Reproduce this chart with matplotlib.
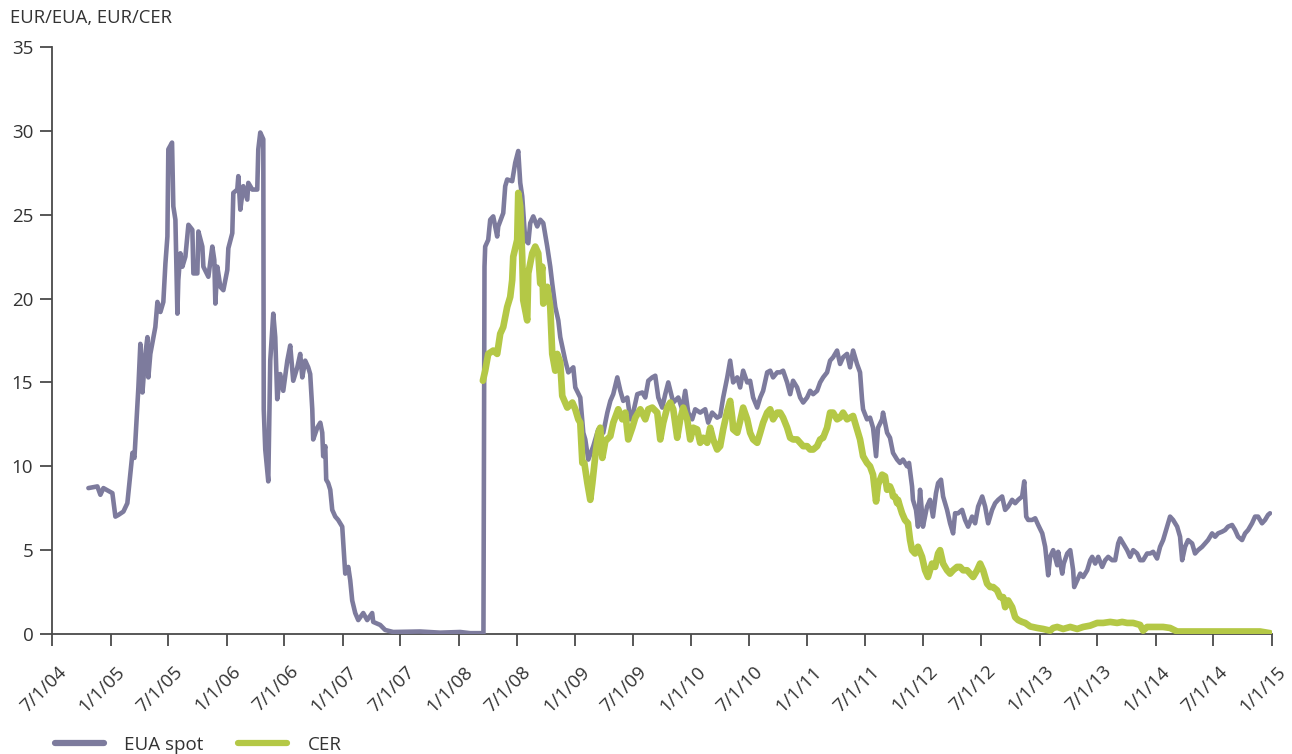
import matplotlib
matplotlib.use("Agg")
import matplotlib.pyplot as plt
import matplotlib.dates as mdates
import matplotlib.transforms as mtransforms
from matplotlib.ticker import FuncFormatter
from datetime import datetime

plt.rcParams['font.family'] = ['Open Sans', 'DejaVu Sans']

# ---- data (decimal years, EUR) ----
eua_t = [2004.810, 2004.887, 2004.913, 2004.939, 2005.016, 2005.042, 2005.068, 2005.111, 2005.145, 2005.171,
         2005.189, 2005.206, 2005.232, 2005.240, 2005.257, 2005.275, 2005.300, 2005.318, 2005.326, 2005.343,
         2005.386, 2005.404, 2005.430, 2005.455, 2005.473, 2005.490, 2005.498, 2005.530, 2005.541, 2005.559,
         2005.576, 2005.584, 2005.602, 2005.619, 2005.645, 2005.671, 2005.705, 2005.714, 2005.748, 2005.757,
         2005.791, 2005.800, 2005.843, 2005.877, 2005.894, 2005.903, 2005.920, 2005.946, 2005.972, 2006.006,
         2006.015, 2006.049, 2006.058, 2006.092, 2006.101, 2006.118, 2006.144, 2006.178, 2006.187, 2006.221,
         2006.264, 2006.273, 2006.290, 2006.316, 2006.320, 2006.333, 2006.359, 2006.376, 2006.402, 2006.419,
         2006.436, 2006.462, 2006.488, 2006.523, 2006.548, 2006.574, 2006.609, 2006.634, 2006.652, 2006.677,
         2006.703, 2006.720, 2006.738, 2006.746, 2006.781, 2006.807, 2006.824, 2006.832, 2006.850, 2006.858,
         2006.875, 2006.893, 2006.910, 2006.936, 2006.961, 2006.996, 2007.022, 2007.048, 2007.065, 2007.082,
         2007.108, 2007.134, 2007.177, 2007.211, 2007.254, 2007.263, 2007.323, 2007.366, 2007.435, 2007.667,
         2007.839, 2008.012, 2008.098, 2008.212, 2008.221, 2008.227, 2008.253, 2008.270, 2008.296, 2008.330,
         2008.339, 2008.382, 2008.399, 2008.416, 2008.459, 2008.485, 2008.511, 2008.528, 2008.545, 2008.571,
         2008.597, 2008.614, 2008.640, 2008.674, 2008.700, 2008.726, 2008.760, 2008.786, 2008.803, 2008.829,
         2008.855, 2008.872, 2008.915, 2008.941, 2008.984, 2009.001, 2009.044, 2009.070, 2009.087, 2009.113,
         2009.156, 2009.199, 2009.242, 2009.277, 2009.303, 2009.328, 2009.363, 2009.389, 2009.414, 2009.449,
         2009.475, 2009.500, 2009.535, 2009.578, 2009.604, 2009.630, 2009.664, 2009.690, 2009.716, 2009.750,
         2009.776, 2009.802, 2009.845, 2009.888, 2009.922, 2009.948, 2009.974, 2010.008, 2010.034, 2010.077,
         2010.120, 2010.146, 2010.180, 2010.223, 2010.249, 2010.275, 2010.310, 2010.335, 2010.361, 2010.396,
         2010.421, 2010.447, 2010.482, 2010.507, 2010.533, 2010.568, 2010.594, 2010.619, 2010.654, 2010.680,
         2010.705, 2010.740, 2010.766, 2010.791, 2010.826, 2010.852, 2010.877, 2010.912, 2010.938, 2010.964,
         2010.998, 2011.024, 2011.050, 2011.084, 2011.110, 2011.136, 2011.170, 2011.196, 2011.222, 2011.256,
         2011.282, 2011.308, 2011.342, 2011.368, 2011.394, 2011.428, 2011.454, 2011.471, 2011.480, 2011.514,
         2011.540, 2011.566, 2011.592, 2011.609, 2011.644, 2011.652, 2011.687, 2011.712, 2011.738, 2011.773,
         2011.798, 2011.824, 2011.859, 2011.876, 2011.902, 2011.910, 2011.936, 2011.953, 2011.971, 2011.988,
         2011.996, 2012.031, 2012.057, 2012.082, 2012.108, 2012.126, 2012.151, 2012.169, 2012.203, 2012.229,
         2012.255, 2012.272, 2012.298, 2012.332, 2012.358, 2012.384, 2012.418, 2012.444, 2012.470, 2012.505,
         2012.530, 2012.556, 2012.590, 2012.616, 2012.642, 2012.676, 2012.702, 2012.728, 2012.762, 2012.788,
         2012.814, 2012.848, 2012.866, 2012.883, 2012.900, 2012.934, 2012.960, 2012.986, 2013.021, 2013.046,
         2013.072, 2013.089, 2013.115, 2013.150, 2013.158, 2013.193, 2013.206, 2013.236, 2013.262, 2013.287,
         2013.296, 2013.322, 2013.348, 2013.373, 2013.408, 2013.434, 2013.451, 2013.477, 2013.503, 2013.537,
         2013.563, 2013.589, 2013.623, 2013.649, 2013.675, 2013.692, 2013.718, 2013.752, 2013.778, 2013.804,
         2013.838, 2013.864, 2013.890, 2013.924, 2013.950, 2013.976, 2014.010, 2014.036, 2014.062, 2014.096,
         2014.122, 2014.148, 2014.183, 2014.208, 2014.226, 2014.251, 2014.277, 2014.312, 2014.337, 2014.363,
         2014.398, 2014.424, 2014.449, 2014.484, 2014.510, 2014.535, 2014.570, 2014.596, 2014.621, 2014.656,
         2014.682, 2014.708, 2014.742, 2014.768, 2014.794, 2014.828, 2014.854, 2014.880, 2014.914, 2014.940,
         2014.966, 2014.983]
eua_v = [8.7, 8.8, 8.3, 8.7, 8.4, 7.0, 7.1, 7.3, 7.8, 9.6,
         10.8, 10.5, 13.8, 14.7, 17.3, 14.4, 16.7, 17.7, 15.3, 16.7,
         18.3, 19.8, 19.2, 19.8, 22.1, 23.7, 28.9, 29.3, 25.5, 24.7,
         19.1, 21.1, 22.7, 21.9, 22.5, 24.4, 24.1, 21.5, 21.5, 24.0,
         23.1, 21.9, 21.3, 23.1, 22.3, 19.7, 21.9, 20.7, 20.5, 21.7,
         23.0, 23.9, 26.3, 26.5, 27.3, 25.3, 26.7, 25.9, 26.9, 26.5,
         26.5, 28.9, 29.9, 29.5, 13.4, 11.0, 9.1, 16.3, 19.1, 17.7,
         14.0, 15.5, 14.5, 16.3, 17.2, 15.1, 15.9, 16.7, 15.3, 16.3,
         15.9, 15.5, 13.4, 11.6, 12.3, 12.6, 12.0, 10.6, 11.2, 9.2,
         9.0, 8.6, 7.4, 7.0, 6.8, 6.4, 3.6, 4.0, 3.2, 2.0,
         1.25, 0.83, 1.25, 0.83, 1.25, 0.72, 0.54, 0.24, 0.12, 0.15,
         0.08, 0.12, 0.05, 0.05, 21.9, 23.1, 23.5, 24.7, 24.9, 23.7,
         24.3, 25.1, 26.7, 27.1, 27.0, 28.1, 28.8, 26.9, 26.1, 23.5,
         23.3, 24.5, 24.9, 24.3, 24.7, 24.5, 23.1, 21.9, 20.9, 19.5,
         18.7, 17.7, 16.3, 15.6, 15.9, 14.7, 14.1, 12.0, 11.6, 10.4,
         11.2, 12.2, 12.0, 13.2, 13.9, 14.3, 15.3, 14.5, 13.9, 14.1,
         12.8, 13.2, 14.3, 14.4, 14.1, 15.1, 15.3, 15.4, 14.1, 13.5,
         14.3, 15.0, 13.8, 14.1, 13.4, 14.5, 13.2, 12.8, 13.4, 13.2,
         13.4, 12.6, 13.2, 12.9, 13.0, 14.1, 15.3, 16.3, 15.0, 15.3,
         14.7, 15.7, 15.0, 15.1, 14.1, 13.5, 14.1, 14.5, 15.6, 15.7,
         15.3, 15.6, 15.6, 15.7, 15.0, 14.3, 15.1, 14.7, 14.1, 13.8,
         14.1, 14.5, 14.3, 14.5, 15.0, 15.3, 15.6, 16.3, 16.5, 16.9,
         16.1, 16.5, 16.7, 15.9, 16.9, 16.1, 15.6, 14.0, 13.4, 12.8,
         12.9, 12.3, 10.6, 12.3, 12.8, 13.2, 12.0, 11.7, 10.8, 10.4,
         10.2, 10.4, 10.0, 10.2, 8.8, 8.0, 7.4, 6.4, 8.6, 7.2,
         6.4, 7.6, 8.0, 7.0, 8.4, 9.0, 9.2, 8.2, 7.4, 6.6,
         6.0, 7.2, 7.2, 7.4, 6.8, 6.4, 7.0, 6.6, 7.6, 8.2,
         7.6, 6.6, 7.4, 7.8, 8.0, 8.2, 7.4, 7.6, 8.0, 7.8,
         8.0, 8.2, 9.1, 7.0, 6.8, 6.8, 6.9, 6.5, 6.0, 5.2,
         3.5, 4.6, 5.0, 4.1, 4.9, 3.6, 4.2, 4.8, 5.0, 3.8,
         2.8, 3.2, 3.6, 3.4, 3.8, 4.4, 4.6, 4.2, 4.6, 4.0,
         4.4, 4.6, 4.4, 4.4, 5.4, 5.7, 5.4, 5.0, 4.6, 5.0,
         4.8, 4.4, 4.4, 4.8, 4.8, 4.9, 4.5, 5.2, 5.6, 6.4,
         7.0, 6.8, 6.4, 5.8, 4.4, 5.2, 5.6, 5.4, 4.8, 5.0,
         5.2, 5.4, 5.6, 6.0, 5.8, 6.0, 6.1, 6.2, 6.4, 6.5,
         6.2, 5.8, 5.6, 6.0, 6.2, 6.6, 7.0, 7.0, 6.6, 6.8,
         7.1, 7.2]

cer_t = [2008.207, 2008.227, 2008.253, 2008.296, 2008.330, 2008.356, 2008.382, 2008.416, 2008.442, 2008.459,
         2008.468, 2008.502, 2008.511, 2008.528, 2008.545, 2008.554, 2008.588, 2008.597, 2008.631, 2008.657,
         2008.683, 2008.700, 2008.717, 2008.726, 2008.760, 2008.786, 2008.803, 2008.829, 2008.846, 2008.872,
         2008.889, 2008.932, 2008.976, 2009.001, 2009.027, 2009.044, 2009.062, 2009.079, 2009.105, 2009.130,
         2009.148, 2009.173, 2009.199, 2009.216, 2009.234, 2009.260, 2009.303, 2009.328, 2009.371, 2009.406,
         2009.432, 2009.457, 2009.492, 2009.518, 2009.561, 2009.604, 2009.630, 2009.664, 2009.707, 2009.733,
         2009.759, 2009.793, 2009.819, 2009.845, 2009.879, 2009.905, 2009.931, 2009.965, 2009.991, 2010.017,
         2010.051, 2010.077, 2010.103, 2010.137, 2010.163, 2010.189, 2010.223, 2010.249, 2010.275, 2010.310,
         2010.335, 2010.353, 2010.361, 2010.396, 2010.421, 2010.447, 2010.482, 2010.507, 2010.533, 2010.568,
         2010.594, 2010.619, 2010.654, 2010.680, 2010.705, 2010.740, 2010.766, 2010.791, 2010.826, 2010.852,
         2010.877, 2010.912, 2010.938, 2010.964, 2010.998, 2011.024, 2011.050, 2011.084, 2011.110, 2011.136,
         2011.170, 2011.196, 2011.222, 2011.256, 2011.282, 2011.308, 2011.342, 2011.368, 2011.394, 2011.428,
         2011.454, 2011.480, 2011.514, 2011.540, 2011.566, 2011.592, 2011.609, 2011.644, 2011.669, 2011.687,
         2011.712, 2011.730, 2011.738, 2011.755, 2011.773, 2011.781, 2011.798, 2011.816, 2011.841, 2011.867,
         2011.885, 2011.902, 2011.928, 2011.953, 2011.988, 2012.014, 2012.039, 2012.074, 2012.100, 2012.126,
         2012.143, 2012.169, 2012.203, 2012.229, 2012.255, 2012.289, 2012.315, 2012.341, 2012.375, 2012.401,
         2012.427, 2012.461, 2012.487, 2012.513, 2012.547, 2012.573, 2012.599, 2012.633, 2012.659, 2012.685,
         2012.702, 2012.728, 2012.762, 2012.788, 2012.814, 2012.848, 2012.874, 2012.917, 2012.978, 2013.029,
         2013.089, 2013.115, 2013.150, 2013.201, 2013.262, 2013.322, 2013.373, 2013.434, 2013.494, 2013.546,
         2013.606, 2013.666, 2013.709, 2013.752, 2013.804, 2013.864, 2013.890, 2013.924, 2013.993, 2014.062,
         2014.122, 2014.183, 2014.380, 2014.639, 2014.897, 2014.940, 2014.983]
cer_v = [15.1, 15.7, 16.7, 16.9, 16.7, 17.9, 18.3, 19.5, 20.1, 21.1,
         22.5, 23.5, 26.3, 25.5, 22.5, 19.9, 18.7, 21.5, 22.7, 23.1,
         22.7, 20.9, 21.9, 19.7, 20.7, 19.5, 16.7, 15.7, 16.7, 16.2,
         14.2, 13.5, 13.8, 13.4, 12.8, 12.6, 10.2, 10.2, 9.0, 8.0,
         9.0, 10.6, 12.0, 12.3, 10.5, 11.5, 11.8, 12.6, 13.4, 12.8,
         13.2, 11.6, 12.3, 12.9, 13.4, 12.8, 13.4, 13.5, 13.2, 11.6,
         12.6, 13.5, 13.8, 13.4, 11.7, 12.8, 13.5, 12.8, 11.6, 12.3,
         12.2, 11.4, 11.7, 11.4, 12.3, 11.6, 11.0, 11.2, 12.2, 13.3,
         13.9, 12.9, 12.2, 12.0, 12.7, 13.5, 12.8, 12.0, 11.6, 11.4,
         12.0, 12.6, 13.2, 13.4, 12.8, 13.2, 13.2, 12.9, 12.3, 11.7,
         11.6, 11.6, 11.4, 11.2, 11.2, 11.0, 11.0, 11.2, 11.6, 11.7,
         12.3, 13.2, 13.2, 12.8, 12.9, 13.2, 12.8, 12.9, 13.0, 12.2,
         11.6, 10.6, 10.2, 10.0, 9.5, 7.9, 8.9, 9.5, 9.4, 8.6,
         8.8, 8.5, 8.2, 8.2, 7.8, 8.0, 7.6, 7.2, 6.8, 6.6,
         5.6, 5.0, 4.8, 5.2, 4.6, 3.8, 3.4, 4.2, 4.0, 4.8,
         5.0, 4.2, 3.8, 3.6, 3.8, 4.0, 4.0, 3.8, 3.8, 3.6,
         3.4, 3.8, 4.2, 3.8, 3.0, 2.8, 2.8, 2.6, 2.2, 2.2,
         1.6, 2.0, 1.6, 1.0, 0.83, 0.72, 0.66, 0.45, 0.36, 0.3,
         0.2, 0.36, 0.42, 0.3, 0.42, 0.3, 0.42, 0.5, 0.66, 0.66,
         0.72, 0.66, 0.72, 0.66, 0.66, 0.54, 0.2, 0.42, 0.42, 0.42,
         0.36, 0.15, 0.15, 0.15, 0.15, 0.1, 0.05]

tick_dates = ["2004-07-01", "2005-01-01", "2005-07-01", "2006-01-01", "2006-07-01", "2007-01-01",
              "2007-07-01", "2008-01-01", "2008-07-01", "2009-01-01", "2009-07-01", "2010-01-01",
              "2010-07-01", "2011-01-01", "2011-07-01", "2012-01-01", "2012-07-01", "2013-01-01",
              "2013-07-01", "2014-01-01", "2014-07-01", "2015-01-01"]
y_ticks = [0, 5, 10, 15, 20, 25, 30, 35]
y_label = "EUR/EUA, EUR/CER"
series_names = ["EUA spot", "CER"]

EUA_COLOR = "#7d7b9d"
CER_COLOR = "#b4c846"
AXIS_COLOR = "#4a4a4a"
TEXT_COLOR = "#333333"


def yr2date(y):
    yi = int(y)
    a = datetime(yi, 1, 1)
    b = datetime(yi + 1, 1, 1)
    return a + (b - a) * (y - yi)


eua_d = [yr2date(t) for t in eua_t]
cer_d = [yr2date(t) for t in cer_t]
ticks = [datetime.strptime(s, "%Y-%m-%d") for s in tick_dates]

fig = plt.figure(figsize=(12.92, 7.54), dpi=100)
ax = fig.add_axes([52 / 1292, 1 - 634 / 754, 1220 / 1292, 587 / 754])

ax.plot(eua_d, eua_v, color=EUA_COLOR, lw=3.3, solid_joinstyle='round', solid_capstyle='round',
        label=series_names[0], zorder=2)
ax.plot(cer_d, cer_v, color=CER_COLOR, lw=4.8, solid_joinstyle='round', solid_capstyle='round',
        label=series_names[1], zorder=3)

ax.set_xlim(ticks[0], ticks[-1])
ax.set_ylim(0, 35)
ax.set_yticks(y_ticks)
ax.set_xticks(ticks)
ax.xaxis.set_major_formatter(FuncFormatter(
    lambda x, pos: (lambda d: f"{d.month}/{d.day}/{d.year % 100:02d}")(mdates.num2date(x))))

for s in ["top", "right"]:
    ax.spines[s].set_visible(False)
for s in ["left", "bottom"]:
    ax.spines[s].set_color(AXIS_COLOR)
    ax.spines[s].set_linewidth(1.3)
    ax.spines[s].set_zorder(1)

ax.tick_params(axis='both', colors=AXIS_COLOR, width=1.3, length=8.5, labelsize=13.5,
               labelcolor=TEXT_COLOR)
ax.tick_params(axis='y', pad=5)
ax.tick_params(axis='x', pad=12)
offset = mtransforms.ScaledTranslation(5 / 100, 0, fig.dpi_scale_trans)
for lab in ax.get_xticklabels():
    lab.set_rotation(45)
    lab.set_ha('right')
    lab.set_va('top')
    lab.set_rotation_mode('anchor')
    lab.set_transform(lab.get_transform() + offset)

fig.text(10 / 1292, 1 - 18 / 754, y_label, fontsize=13.3, color=TEXT_COLOR, va='center', ha='left')

leg = fig.legend(loc='center left', bbox_to_anchor=(55 / 1292, 1 - 745 / 754), ncol=2, frameon=False,
                 fontsize=13.5, handlelength=2.6, handletextpad=1.1, columnspacing=1.85,
                 borderpad=0, borderaxespad=0)
for t in leg.get_texts():
    t.set_color(TEXT_COLOR)
for h in leg.get_lines():
    h.set_linewidth(4.5)
    h.set_solid_capstyle('round')

fig.savefig("out.png", dpi=100)
